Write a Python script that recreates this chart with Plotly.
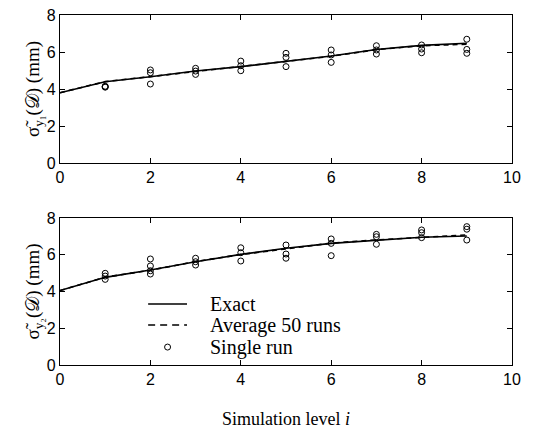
import plotly.graph_objects as go

levels = [0, 1, 2, 3, 4, 5, 6, 7, 8, 9]
exact_y1 = [3.80, 4.39, 4.66, 4.97, 5.21, 5.48, 5.78, 6.14, 6.36, 6.47]
avg_y1 = [3.80, 4.40, 4.67, 4.96, 5.22, 5.49, 5.77, 6.13, 6.34, 6.42]
exact_y2 = [4.05, 4.77, 5.17, 5.62, 6.02, 6.35, 6.62, 6.80, 6.95, 7.02]
avg_y2 = [4.05, 4.78, 5.16, 5.63, 6.01, 6.34, 6.63, 6.81, 6.96, 7.08]

single_x1 = [1, 1, 1, 2, 2, 2, 3, 3, 3, 4, 4, 4, 5, 5, 5, 6, 6, 6, 7, 7, 7, 8, 8, 8, 9, 9, 9]
single_y1 = [4.15, 4.10, 4.12, 5.03, 4.88, 4.27, 5.12, 4.97, 4.79, 5.51, 5.26, 4.99,
             5.93, 5.71, 5.21, 6.11, 5.84, 5.44, 6.34, 6.11, 5.89, 6.38, 6.16, 5.96,
             6.69, 6.14, 5.93]
single_x2 = [1, 1, 1, 2, 2, 2, 2, 3, 3, 3, 4, 4, 4, 5, 5, 5, 6, 6, 6, 7, 7, 7, 8, 8, 8, 9, 9, 9]
single_y2 = [4.99, 4.84, 4.66, 5.77, 5.39, 5.13, 4.95, 5.81, 5.62, 5.44, 6.38, 6.11, 5.66,
             6.53, 6.04, 5.81, 6.86, 6.62, 5.95, 7.11, 6.98, 6.57, 7.35, 7.20, 6.93,
             7.53, 7.39, 6.80]

x_ticks = [0, 2, 4, 6, 8, 10]
y_ticks = [0, 2, 4, 6, 8]
legend_labels = ["Exact", "Average 50 runs", "Single run"]

fig = go.Figure()

def add_panel(ex, av, sx, sy, xa, ya):
    fig.add_trace(go.Scatter(x=levels, y=ex, mode="lines", name="Exact",
                             line=dict(color="black", width=1.6),
                             xaxis=xa, yaxis=ya, showlegend=False))
    fig.add_trace(go.Scatter(x=levels, y=av, mode="lines", name="Average 50 runs",
                             line=dict(color="black", width=1.6, dash="5px,4px"),
                             xaxis=xa, yaxis=ya, showlegend=False))
    fig.add_trace(go.Scatter(x=sx, y=sy, mode="markers", name="Single run",
                             marker=dict(symbol="circle-open", size=6, color="black",
                                         line=dict(width=1, color="black")),
                             xaxis=xa, yaxis=ya, showlegend=False))

add_panel(exact_y1, avg_y1, single_x1, single_y1, "x", "y")
add_panel(exact_y2, avg_y2, single_x2, single_y2, "x2", "y2")

# manual legend inside the lower panel
leg_rows = [0.415, 0.272, 0.122]
leg_x0, leg_x1, leg_tx = 0.195, 0.281, 0.327
fig.add_shape(type="line", xref="x2 domain", yref="y2 domain",
              x0=leg_x0, x1=leg_x1, y0=leg_rows[0], y1=leg_rows[0],
              line=dict(color="black", width=1.6))
fig.add_shape(type="line", xref="x2 domain", yref="y2 domain",
              x0=leg_x0, x1=leg_x1, y0=leg_rows[1], y1=leg_rows[1],
              line=dict(color="black", width=1.6, dash="7px,5px"))
fig.add_shape(type="circle", xref="x2 domain", yref="y2 domain",
              xsizemode="pixel", ysizemode="pixel",
              xanchor=(leg_x0 + leg_x1) / 2, yanchor=leg_rows[2],
              x0=-3, x1=3, y0=-3, y1=3,
              line=dict(color="black", width=1))
for lab, ry in zip(legend_labels, leg_rows):
    fig.add_annotation(xref="x2 domain", yref="y2 domain", x=leg_tx, y=ry,
                       text=lab, showarrow=False, xanchor="left", yanchor="middle",
                       font=dict(family="Liberation Serif, Times New Roman", size=20, color="black"))

axis_common = dict(showline=True, linecolor="black", linewidth=1.2, mirror="ticks",
                   ticks="inside", ticklen=5, tickcolor="black", showgrid=False,
                   zeroline=False, automargin=False,
                   tickfont=dict(family="Liberation Sans, Arial", size=16, color="black"))

title_font = dict(family="Liberation Serif, DejaVu Serif", size=19, color="black")

fig.update_layout(
    width=533, height=431,
    margin=dict(l=60, r=21, t=15, b=66),
    paper_bgcolor="white", plot_bgcolor="white",
    showlegend=False,
    xaxis=dict(domain=[0, 1], range=[0, 10], tickvals=x_ticks, anchor="y", **axis_common),
    yaxis=dict(domain=[0.577, 1.0], range=[0, 8], tickvals=y_ticks, anchor="x",
               title=dict(text="σ̃<sub>y₁</sub>(𝒟) (mm)", standoff=2, font=title_font),
               **axis_common),
    xaxis2=dict(domain=[0, 1], range=[0, 10], tickvals=x_ticks, anchor="y2",
                title=dict(text="Simulation level <i>i</i>", standoff=25,
                           font=dict(family="Liberation Serif, Times New Roman", size=18, color="black")),
                **axis_common),
    yaxis2=dict(domain=[0, 0.42], range=[0, 8], tickvals=y_ticks, anchor="x2",
                title=dict(text="σ̃<sub>y₂</sub>(𝒟) (mm)", standoff=2, font=title_font),
                **axis_common),
)

fig.write_html("out.html", config={"displayModeBar": False},
               post_script="document.body.style.margin='0px';")
